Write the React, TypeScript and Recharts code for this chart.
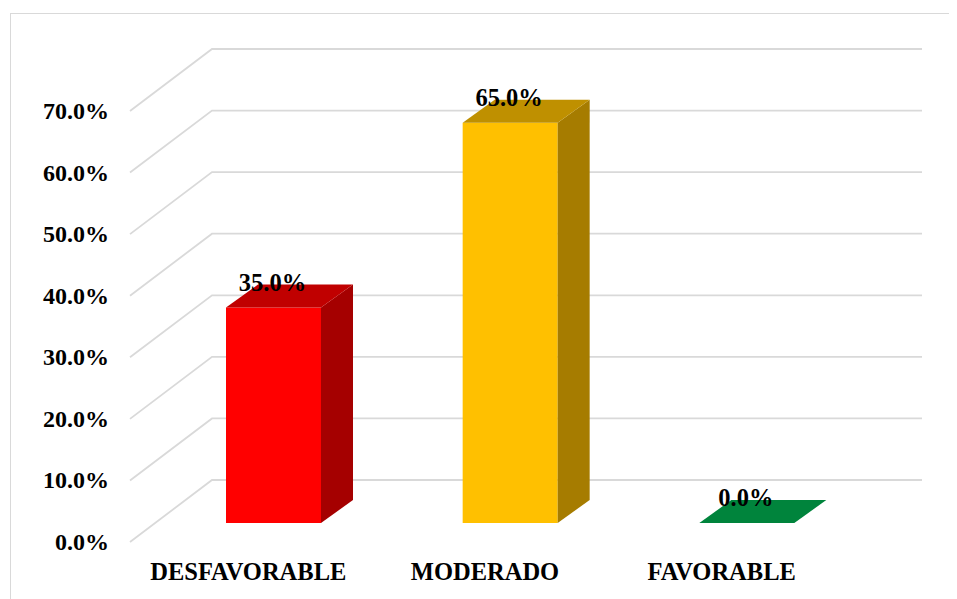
import React from "react";
import { BarChart, Bar, XAxis, YAxis, CartesianGrid, Cell, LabelList } from "recharts";

const categories = ["DESFAVORABLE", "MODERADO", "FAVORABLE"];
const percentages = [35.0, 65.0, 0.0];
const yTicks = [0, 10, 20, 30, 40, 50, 60, 70];

const frontColors = ["#ff0000", "#ffc000", "#00b050"];
const topColors = ["#c00000", "#bf9000", "#00843c"];
const sideColors = ["#a50000", "#a67c00", "#006e32"];

const data = categories.map((name, i) => ({ name, value: percentages[i], idx: i }));

// oblique 3D projection: wall depth and bar depth
const WALL_DX = 82;
const WALL_DY = -62;
const FACE_DX = 25;
const FACE_DY = -19;
const BAR_DX = 32;
const BAR_DY = -23;

const FONT = "'Liberation Serif', 'Times New Roman', serif";
const fmt = (v: number) => `${v.toFixed(1)}%`;

const WallGridLine = (props: any) => {
  const { x1, y1, x2 } = props;
  if (x1 == null || y1 == null) return null;
  const by = y1 + WALL_DY;
  return (
    <path
      key={props.key}
      d={`M${x1},${y1}L${x1 + WALL_DX},${by}L${x2 + WALL_DX},${by}`}
      fill="none"
      stroke="#d9d9d9"
      strokeWidth={1.8}
    />
  );
};

const Box3D = (props: any) => {
  const { x, y, width, height, payload } = props;
  const i = payload.idx;
  const fx = x + FACE_DX;
  const fy = y + FACE_DY;
  const top = `M${fx},${fy}L${fx + BAR_DX},${fy + BAR_DY}L${fx + width + BAR_DX},${fy + BAR_DY}L${fx + width},${fy}Z`;
  const side = `M${fx + width},${fy}L${fx + width + BAR_DX},${fy + BAR_DY}L${fx + width + BAR_DX},${fy + height + BAR_DY}L${fx + width},${fy + height}Z`;
  return (
    <g>
      {height > 0 && <rect x={fx} y={fy} width={width} height={height} fill={frontColors[i]} />}
      {height > 0 && <path d={side} fill={sideColors[i]} />}
      <path d={top} fill={topColors[i]} />
    </g>
  );
};

const ValueLabel = (props: any) => {
  const { x, y, width, value } = props;
  return (
    <text
      x={x + FACE_DX + width / 2 - 1}
      y={y + FACE_DY + BAR_DY + 6}
      textAnchor="middle"
      fontFamily={FONT}
      fontWeight="bold"
      fontSize={24.5}
      fill="#000"
    >
      {fmt(Number(value))}
    </text>
  );
};

const YTick = (props: any) => {
  const { y, payload } = props;
  return (
    <text x={101} y={y} textAnchor="end" dominantBaseline="central" fontFamily={FONT} fontWeight="bold" fontSize={24} fill="#000">
      {fmt(payload.value)}
    </text>
  );
};

const XTick = (props: any) => {
  const { x, payload } = props;
  return (
    <text x={x} y={563} textAnchor="middle" dominantBaseline="central" fontFamily={FONT} fontWeight="bold" fontSize={24.5} fill="#000">
      {payload.value}
    </text>
  );
};

export default function App() {
  return (
    <div style={{ position: "relative", width: 949, height: 591, overflow: "hidden", background: "#fff" }}>
      <div
        style={{
          position: "absolute",
          left: 2,
          top: 5,
          width: 1000,
          height: 1000,
          borderLeft: "1px solid #d9d9d9",
          borderTop: "1px solid #d9d9d9",
        }}
      />
      <div style={{ position: "absolute", left: 0, top: 0 }}>
        <BarChart
          width={949}
          height={591}
          data={data}
          margin={{ top: 103, right: 117, bottom: 0, left: 0 }}
          barCategoryGap="30%"
        >
          <CartesianGrid vertical={false} horizontal={WallGridLine} />
          <XAxis dataKey="name" axisLine={false} tickLine={false} height={57} tick={XTick} interval={0} />
          <YAxis
            domain={[0, 70]}
            ticks={yTicks}
            axisLine={false}
            tickLine={false}
            width={122}
            tick={YTick}
            interval={0}
          />
          <Bar dataKey="value" shape={Box3D} isAnimationActive={false}>
            {data.map((d) => (
              <Cell key={d.name} fill={frontColors[d.idx]} />
            ))}
            <LabelList dataKey="value" content={ValueLabel} />
          </Bar>
        </BarChart>
      </div>
    </div>
  );
}
